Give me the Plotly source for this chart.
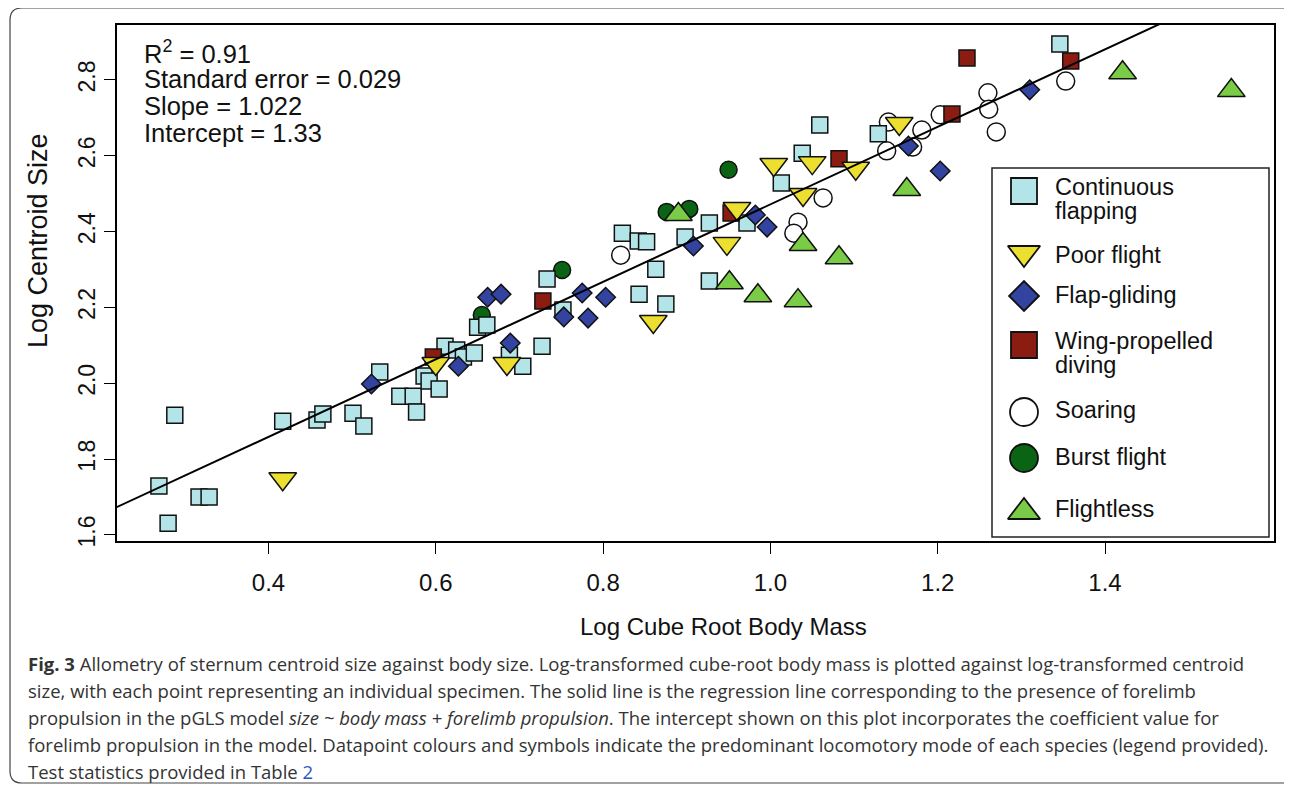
import plotly.graph_objects as go

# ---------------- data ----------------
cf_x = [0.269, 0.288, 0.280, 0.317, 0.329, 0.417, 0.458, 0.465, 0.501, 0.514, 0.533, 0.557, 0.573, 0.577,
        0.586, 0.592, 0.604, 0.611, 0.625, 0.633, 0.646, 0.650, 0.661, 0.688, 0.704, 0.727, 0.733, 0.752,
        0.823, 0.842, 0.852, 0.843, 0.863, 0.875, 0.898, 0.927, 0.927, 0.972, 1.059, 1.038, 1.013, 1.129, 1.346]
cf_y = [1.729, 1.916, 1.631, 1.700, 1.700, 1.900, 1.903, 1.919, 1.921, 1.887, 2.030, 1.966, 1.966, 1.924,
        2.019, 2.006, 1.985, 2.098, 2.088, 2.069, 2.080, 2.148, 2.154, 2.074, 2.045, 2.098, 2.275, 2.193,
        2.396, 2.375, 2.373, 2.235, 2.301, 2.209, 2.386, 2.423, 2.270, 2.423, 2.681, 2.607, 2.528, 2.658, 2.895]

pf_x = [0.417, 0.600, 0.685, 0.860, 0.948, 0.960, 1.004, 1.050, 1.039, 1.102, 1.154]
pf_y = [1.748, 2.052, 2.052, 2.163, 2.369, 2.461, 2.577, 2.582, 2.498, 2.567, 2.685]

fg_x = [0.523, 0.627, 0.662, 0.678, 0.689, 0.753, 0.775, 0.782, 0.803, 0.908, 0.982, 0.996, 1.165, 1.203, 1.310]
fg_y = [1.998, 2.045, 2.227, 2.235, 2.106, 2.175, 2.238, 2.172, 2.227, 2.362, 2.444, 2.412, 2.626, 2.560, 2.774]

wpd_x = [0.597, 0.728, 0.953, 1.082, 1.217, 1.235, 1.359]
wpd_y = [2.069, 2.217, 2.449, 2.592, 2.710, 2.858, 2.850]

so_x = [0.821, 1.063, 1.033, 1.028, 1.141, 1.139, 1.181, 1.170, 1.203, 1.260, 1.261, 1.270, 1.353]
so_y = [2.338, 2.489, 2.425, 2.396, 2.689, 2.613, 2.668, 2.623, 2.708, 2.766, 2.723, 2.663, 2.797]

bf_x = [0.751, 0.655, 0.950, 0.876, 0.903]
bf_y = [2.299, 2.180, 2.563, 2.452, 2.460]

fl_x = [0.890, 0.951, 0.985, 1.039, 1.082, 1.033, 1.163, 1.421, 1.551]
fl_y = [2.445, 2.265, 2.231, 2.366, 2.331, 2.218, 2.511, 2.819, 2.772]

slope = 1.022
intercept = 1.45
line_x = [0.2, 1.6]

x_ticks = [0.4, 0.6, 0.8, 1.0, 1.2, 1.4]
x_ticklabels = ["0.4", "0.6", "0.8", "1.0", "1.2", "1.4"]
y_ticks = [1.6, 1.8, 2.0, 2.2, 2.4, 2.6, 2.8]
y_ticklabels = ["1.6", "1.8", "2.0", "2.2", "2.4", "2.6", "2.8"]

stats_lines = ["R<sup>2</sup> = 0.91", "Standard error = 0.029", "Slope = 1.022", "Intercept = 1.33"]

caption_lines = [
    "<b>Fig. 3</b> Allometry of sternum centroid size against body size. Log-transformed cube-root body mass is plotted against log-transformed centroid",
    "size, with each point representing an individual specimen. The solid line is the regression line corresponding to the presence of forelimb",
    "propulsion in the pGLS model <i>size ~ body mass + forelimb propulsion</i>. The intercept shown on this plot incorporates the coefficient value for",
    "forelimb propulsion in the model. Datapoint colours and symbols indicate the predominant locomotory mode of each species (legend provided).",
    "Test statistics provided in Table <span style='color:#2a55c8'>2</span>",
]

# ---------------- layout geometry (reference pixel coords; page has 8px body margin) ----------------
OFF = 8
W, H = 1292 - OFF, 789 - OFF
PL, PT, PR, PB = 117, 25, 1274, 541          # plot box in reference pixels
L, T = PL - OFF, PT - OFF
R, B = W - (PR - OFF), H - (PB - OFF)
PW, PH = PR - PL, PB - PT


def px(xp):
    return (xp - PL) / PW


def py(yp):
    return (PB - yp) / PH


FONT = "Liberation Sans, Arial, sans-serif"
TXT = "#111111"

fig = go.Figure()

groups = [
    # name, xs, ys, symbol, colour, size, legend y (ref px), legend marker size, legend text lines
    ("Burst flight", bf_x, bf_y, "circle", "#0b6414", 17, 458, 28, [("Burst flight", 457)]),
    ("Soaring", so_x, so_y, "circle", "#ffffff", 18, 412, 28, [("Soaring", 410)]),
    ("Continuous flapping", cf_x, cf_y, "square", "#b3e4e8", 16, 191, 26,
     [("Continuous", 187), ("flapping", 211)]),
    ("Flightless", fl_x, fl_y, "triangle-up", "#7acb45", 24, 512, 28, [("Flightless", 509)]),
    ("Wing-propelled diving", wpd_x, wpd_y, "square", "#8b1c12", 16, 345, 26,
     [("Wing-propelled", 341), ("diving", 365)]),
    ("Poor flight", pf_x, pf_y, "triangle-down", "#ecdf2f", 24, 253, 28, [("Poor flight", 255)]),
    ("Flap-gliding", fg_x, fg_y, "diamond", "#3243a0", 15, 296, 23, [("Flap-gliding", 295)]),
]

for name, xs, ys, sym, col, size, ly, lsize, ltext in groups:
    fig.add_trace(go.Scatter(
        x=xs, y=ys, mode="markers", name=name, showlegend=False,
        marker=dict(symbol=sym, color=col, size=size, line=dict(color="#111111", width=1.5)),
    ))

fig.add_trace(go.Scatter(
    x=line_x, y=[intercept + slope * v for v in line_x], mode="lines",
    line=dict(color="black", width=2), showlegend=False, hoverinfo="skip",
))

# ---------- hand-drawn legend (R style) on a pixel overlay axis ----------
fig.add_shape(type="rect", xref="x2", yref="y2", x0=992, x1=1269, y0=168, y1=537,
              line=dict(color="#222222", width=1.5), fillcolor="white", layer="below")
for name, xs, ys, sym, col, size, ly, lsize, ltext in groups:
    fig.add_trace(go.Scatter(
        x=[1024], y=[ly], xaxis="x2", yaxis="y2", mode="markers", showlegend=False, hoverinfo="skip",
        marker=dict(symbol=sym, color=col, size=lsize, line=dict(color="#111111", width=1.8)),
    ))
    for t, ty in ltext:
        fig.add_annotation(x=1053, y=ty, xref="x2", yref="y2", text=t, showarrow=False,
                           xanchor="left", yanchor="middle",
                           font=dict(family=FONT, size=23.5, color=TXT))

# stats text
for i, s in enumerate(stats_lines):
    fig.add_annotation(x=142, y=52 + 27 * i, xref="x2", yref="y2", text=s,
                       showarrow=False, xanchor="left", yanchor="middle",
                       font=dict(family=FONT, size=25.5, color=TXT))

# axis titles
fig.add_annotation(x=px(723), y=py(626), xref="paper", yref="paper", text="Log Cube Root Body Mass",
                   showarrow=False, xanchor="center", yanchor="middle",
                   font=dict(family=FONT, size=24, color=TXT))
fig.add_annotation(x=px(38), y=py(241), xref="paper", yref="paper", text="Log Centroid Size",
                   showarrow=False, xanchor="center", yanchor="middle", textangle=-90,
                   font=dict(family=FONT, size=27, color=TXT))

# caption
for i, s in enumerate(caption_lines):
    fig.add_annotation(x=px(26), y=py(663 + 27 * i), xref="paper", yref="paper", text=s,
                       showarrow=False, xanchor="left", yanchor="middle",
                       font=dict(family="Open Sans, sans-serif", size=18.5, color="#333333"))

# outer rounded frame (right edge runs just off the page, as in the reference)
x0, y0, x1, y1, r = px(10), py(8), px(1296), py(783), 12
rx, ry = r / PW, r / PH
path = (f"M {x0 + rx},{y0} L {x1 - rx},{y0} Q {x1},{y0} {x1},{y0 - ry} "
        f"L {x1},{y1 + ry} Q {x1},{y1} {x1 - rx},{y1} L {x0 + rx},{y1} Q {x0},{y1} {x0},{y1 + ry} "
        f"L {x0},{y0 - ry} Q {x0},{y0} {x0 + rx},{y0} Z")
fig.add_shape(type="path", path=path, xref="paper", yref="paper",
              line=dict(color="#444444", width=1.2), layer="below")

axis_common = dict(showgrid=False, zeroline=False, showline=True, mirror=True, linecolor="black",
                   linewidth=1.5, ticks="outside", ticklen=11, tickwidth=1.3, tickcolor="black")

fig.update_xaxes(range=[0.2189, 1.602], tickvals=x_ticks, ticktext=x_ticklabels,
                 tickfont=dict(family=FONT, size=24, color=TXT), ticklabelstandoff=8, **axis_common)
fig.update_yaxes(range=[1.584, 2.945], tickvals=y_ticks, ticktext=y_ticklabels, tickangle=-90,
                 tickfont=dict(family=FONT, size=23, color=TXT), **axis_common)

fig.update_layout(
    width=W, height=H,
    margin=dict(l=L, r=R, t=T, b=B, autoexpand=False),
    paper_bgcolor="white", plot_bgcolor="white",
    showlegend=False,
    xaxis2=dict(overlaying="x", range=[PL, PR], visible=False, fixedrange=True),
    yaxis2=dict(overlaying="y", range=[PB, PT], visible=False, fixedrange=True),
)

fig.write_html("out.html")
